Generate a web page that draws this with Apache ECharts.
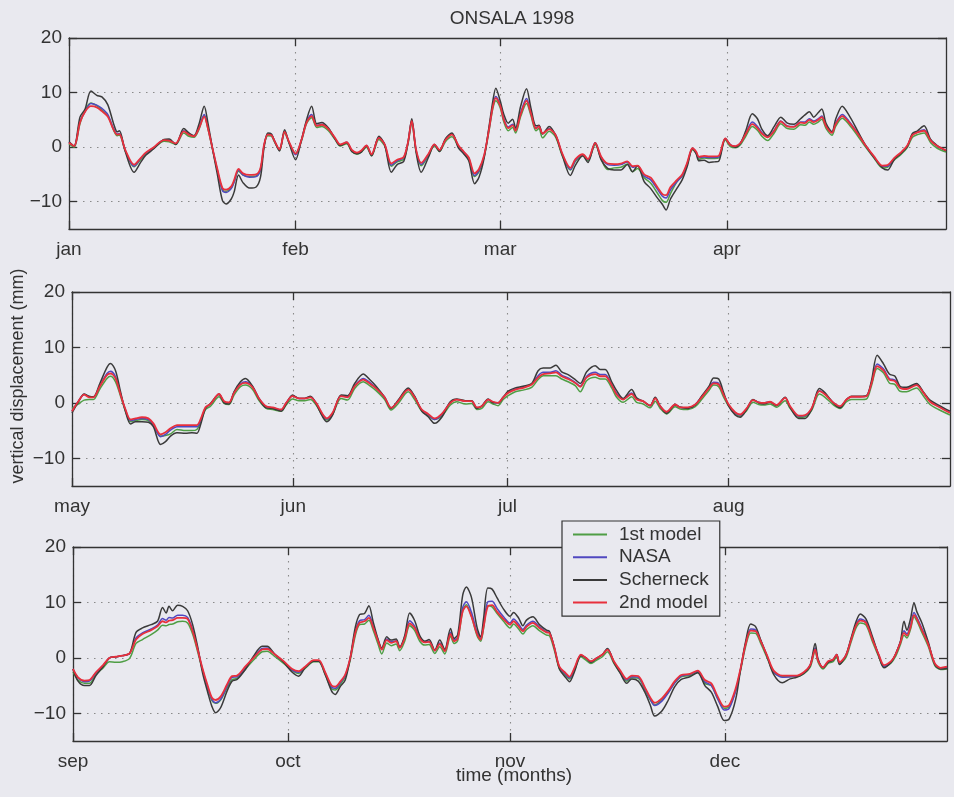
<!DOCTYPE html>
<html>
<head>
<meta charset="utf-8">
<script src="https://cdn.jsdelivr.net/npm/echarts@6/dist/echarts.min.js"></script>
<style>
  html, body { margin: 0; padding: 0; background: #e9e9ef; }
  #chart { width: 954px; height: 797px; }
</style>
</head>
<body>
<div id="chart"></div>
<script>
// Time is measured in days from 1 Jan 1998.
const monthStarts = [0, 31, 59, 90, 120, 151, 181, 212, 243, 273, 304, 334, 365];
const monthNames = ['jan', 'feb', 'mar', 'apr', 'may', 'jun', 'jul', 'aug', 'sep', 'oct', 'nov', 'dec'];
const yTickValues = [-10, 0, 10, 20];
const seriesNames = ['1st model', 'NASA', 'Scherneck', '2nd model'];

// ---- January - April ----
const daysJanApr = [
  0.0, 0.7, 1.5, 2.2, 3.0, 3.8, 4.5, 5.3, 6.1, 6.6,
  6.9, 7.7, 8.9, 9.8, 10.5, 11.6, 13.0, 13.7, 14.6, 15.7,
  16.4, 17.1, 17.8, 18.5, 19.0, 19.6, 20.3, 21.0, 21.5, 22.2,
  22.6, 23.2, 23.8, 24.7, 25.6, 26.2, 26.7, 27.2, 27.7, 28.1,
  28.8, 29.5, 30.1, 31.0, 31.8, 32.5, 33.2, 33.9, 34.6, 35.5,
  36.4, 37.1, 38.0, 38.7, 39.4, 40.0, 40.7, 41.4, 42.4, 43.2,
  44.1, 44.9, 45.8, 46.4, 46.9, 47.5, 48.2, 49.2, 50.0, 50.7,
  51.5, 52.4, 53.3, 54.0, 54.7, 55.5, 56.1, 56.8, 57.5, 58.0,
  58.4, 59.0, 59.5, 60.1, 60.7, 61.1, 61.8, 62.6, 63.2, 63.9,
  64.3, 64.8, 65.7, 66.6, 67.5, 68.6, 69.3, 70.3, 71.0, 72.0,
  72.8, 73.7, 74.6, 75.5, 76.4, 77.1, 77.8, 78.7, 79.6, 80.5,
  81.2, 81.7, 82.3, 83.2, 83.9, 84.6, 85.3, 85.8, 86.2, 86.9,
  87.6, 88.3, 88.9, 89.8, 90.5, 91.2, 91.9, 92.6, 93.5, 94.2,
  94.8, 95.6, 96.5, 97.4, 98.3, 99.2, 100.1, 100.7, 101.3, 101.9,
  102.5, 103.0, 103.6, 104.4, 104.9, 105.8, 106.7, 107.9, 109.0, 110.1,
  111.3, 112.0, 112.9, 113.8, 114.7, 115.4, 116.1, 117.0, 117.9, 118.8, 120.0
];
const firstModelJanApr = [
  0.6, 0.0, 4.3, 6.8, 8.1, 7.6, 6.8, 5.8, 3.1, 2.1,
  2.2, -0.7, -3.6, -2.3, -1.3, -0.2, 1.1, 1.0, 0.5, 2.6,
  2.0, 1.8, 3.3, 5.8, 3.4, -0.2, -4.3, -7.8, -8.1, -7.5,
  -6.3, -4.4, -5.1, -5.4, -5.3, -4.1, 0.3, 2.1, 2.0, 1.0,
  -0.6, 2.6, 0.8, -1.2, 1.1, 4.3, 5.4, 3.6, 3.8, 3.0,
  1.4, 0.2, 0.6, -0.8, -1.3, -0.9, 0.0, -1.6, 1.4, 0.2,
  -3.5, -2.7, -2.2, 0.7, 4.4, -0.8, -3.4, -1.5, 0.2, -0.8,
  1.0, 1.9, 0.0, -1.1, -2.3, -5.4, -4.5, -1.8, 3.2, 7.1,
  8.5, 7.2, 4.6, 3.0, 3.6, 2.6, 5.6, 8.0, 5.8, 3.0,
  3.4, 1.7, 2.9, 1.8, -1.6, -4.2, -2.6, -1.6, -2.5, 0.5,
  -2.1, -4.1, -3.8, -3.7, -3.1, -4.5, -3.9, -5.6, -6.6, -8.4,
  -9.8, -10.1, -8.5, -6.3, -5.3, -3.1, -0.5, -1.1, -2.2, -2.0,
  -2.1, -2.1, -2.0, 1.3, 0.1, -0.1, 0.5, 2.0, 3.8, 3.1,
  2.0, 1.2, 2.6, 4.3, 3.4, 3.3, 4.1, 4.0, 4.6, 4.2,
  4.6, 5.1, 3.4, 2.2, 3.8, 5.3, 4.2, 2.1, 0.0, -1.9,
  -3.8, -3.7, -2.4, -1.4, -0.1, 1.8, 2.3, 2.6, 0.8, -0.2, -0.9
];
const nasaJanApr = [
  0.9, 0.2, 4.7, 6.5, 8.0, 7.7, 7.1, 6.0, 3.4, 2.4,
  2.5, -0.6, -3.5, -2.1, -1.1, -0.1, 1.3, 1.3, 0.6, 3.0,
  2.4, 2.0, 3.6, 6.0, 3.7, 0.0, -4.2, -8.0, -8.3, -7.6,
  -6.4, -4.2, -5.1, -5.5, -5.4, -4.1, 0.4, 2.4, 2.3, 1.2,
  -0.5, 2.9, 0.9, -1.4, 1.3, 4.6, 6.0, 4.0, 4.2, 3.4,
  1.6, 0.4, 0.9, -0.6, -1.1, -0.7, 0.3, -1.4, 1.8, 0.5,
  -3.3, -2.5, -1.9, 1.0, 4.9, -0.6, -3.2, -1.3, 0.5, -0.6,
  1.4, 2.4, 0.2, -0.9, -2.0, -5.2, -4.3, -1.6, 3.6, 7.7,
  9.3, 7.8, 5.2, 3.7, 4.2, 3.1, 6.3, 8.9, 6.4, 3.5,
  3.9, 2.5, 3.4, 2.2, -1.3, -4.1, -2.4, -1.4, -2.3, 0.8,
  -1.8, -3.2, -3.3, -3.2, -2.7, -3.7, -3.4, -5.3, -6.0, -7.7,
  -9.0, -9.3, -7.8, -6.3, -5.2, -3.0, -0.2, -0.9, -1.9, -1.8,
  -1.9, -1.9, -1.8, 1.6, 0.4, 0.1, 0.8, 2.5, 4.6, 3.8,
  2.7, 1.9, 3.1, 4.8, 3.9, 3.8, 4.6, 4.6, 5.2, 4.8,
  5.2, 5.7, 3.9, 2.7, 4.4, 6.0, 4.8, 2.6, 0.3, -1.7,
  -3.5, -3.5, -2.1, -1.1, 0.2, 2.3, 2.8, 3.2, 1.3, 0.2, -0.6
];
const scherneckJanApr = [
  1.0, 0.2, 5.5, 7.0, 10.3, 9.5, 9.2, 7.8, 4.3, 2.8,
  3.0, -0.8, -4.6, -2.8, -1.5, -0.3, 1.4, 1.5, 0.5, 3.4,
  2.6, 2.1, 4.3, 7.5, 4.5, 0.0, -5.0, -9.8, -10.4, -9.5,
  -8.2, -5.1, -6.5, -7.5, -7.3, -5.5, 0.0, 2.6, 2.4, 1.2,
  -0.7, 3.2, 0.8, -2.3, 1.3, 5.0, 7.5, 4.3, 4.5, 3.5,
  1.5, 0.3, 0.8, -0.8, -1.2, -0.9, 0.2, -1.6, 2.0, 0.4,
  -4.6, -3.2, -2.6, 1.0, 5.2, -1.0, -4.6, -1.8, 0.5, -0.8,
  1.5, 2.6, -0.2, -1.2, -2.5, -6.7, -5.5, -2.0, 4.0, 8.5,
  10.8, 8.5, 6.0, 4.4, 5.1, 3.5, 7.5, 10.7, 7.2, 3.9,
  4.0, 2.4, 3.8, 2.1, -1.5, -5.2, -3.3, -1.6, -2.8, 0.8,
  -2.3, -3.9, -4.2, -4.2, -3.2, -4.5, -3.4, -6.3, -7.6, -9.3,
  -10.5, -11.5, -9.5, -7.5, -6.0, -3.5, -0.3, -1.2, -2.5, -2.4,
  -2.8, -2.7, -2.6, 1.6, 0.4, 0.0, 0.8, 3.0, 6.1, 5.2,
  3.3, 2.1, 3.8, 5.5, 4.4, 4.2, 5.2, 5.9, 6.5, 5.5,
  6.3, 7.0, 4.3, 2.8, 5.1, 7.5, 5.9, 3.0, 0.3, -1.8,
  -3.8, -4.2, -2.3, -1.2, 0.1, 2.5, 3.0, 3.9, 1.4, 0.3, -0.7
];
const secondModelJanApr = [
  0.8, 0.2, 4.5, 6.5, 7.5, 7.3, 6.6, 5.6, 3.2, 2.3,
  2.4, -0.5, -3.2, -2.0, -1.0, 0.0, 1.3, 1.2, 0.7, 2.9,
  2.3, 2.0, 3.5, 5.6, 3.5, 0.0, -4.0, -7.5, -7.8, -7.2,
  -6.0, -4.0, -4.8, -5.1, -5.0, -3.8, 0.5, 2.3, 2.2, 1.2,
  -0.4, 2.8, 1.0, -1.2, 1.3, 4.5, 5.7, 3.9, 4.1, 3.3,
  1.7, 0.5, 0.9, -0.5, -1.0, -0.6, 0.3, -1.3, 1.7, 0.5,
  -3.0, -2.3, -1.8, 1.0, 4.8, -0.5, -2.9, -1.2, 0.5, -0.5,
  1.3, 2.3, 0.3, -0.8, -1.9, -4.8, -4.0, -1.5, 3.5, 7.5,
  9.0, 7.6, 5.0, 3.5, 4.0, 3.0, 6.0, 8.5, 6.2, 3.4,
  3.8, 2.5, 3.3, 2.2, -1.2, -3.8, -2.2, -1.3, -2.2, 0.8,
  -1.7, -3.0, -3.1, -3.0, -2.6, -3.5, -3.4, -5.0, -5.6, -7.3,
  -8.6, -8.8, -7.3, -6.0, -5.0, -2.8, -0.2, -0.8, -1.8, -1.6,
  -1.7, -1.7, -1.6, 1.6, 0.4, 0.2, 0.8, 2.4, 4.2, 3.5,
  2.5, 1.8, 3.0, 4.7, 3.8, 3.7, 4.5, 4.4, 5.0, 4.6,
  5.0, 5.5, 3.8, 2.6, 4.2, 5.7, 4.6, 2.5, 0.3, -1.6,
  -3.4, -3.3, -2.0, -1.0, 0.3, 2.2, 2.7, 3.0, 1.2, 0.2, -0.6
];

// ---- May - August ----
const daysMayAug = [
  120.0, 120.9, 121.7, 122.4, 123.0, 123.9, 124.9, 125.4, 126.1, 126.8,
  127.5, 128.2, 128.9, 129.8, 130.7, 131.4, 132.4, 133.1, 133.8, 134.7,
  135.9, 136.8, 137.5, 138.0, 138.7, 139.4, 140.6, 141.3, 142.0, 142.7,
  143.6, 144.3, 145.3, 146.2, 147.2, 148.1, 149.3, 150.0, 150.9, 151.8,
  152.6, 153.4, 154.2, 155.1, 155.7, 156.5, 157.7, 158.6, 159.6, 160.8,
  161.7, 162.6, 163.8, 164.7, 165.7, 167.1, 168.0, 169.0, 169.9, 170.8,
  171.8, 173.0, 173.9, 175.1, 176.0, 176.7, 177.4, 178.3, 179.0, 179.7,
  180.4, 181.1, 182.1, 183.2, 184.4, 185.3, 186.0, 187.0, 187.8, 188.6,
  189.5, 190.5, 191.2, 192.1, 193.3, 194.0, 194.7, 195.6, 196.3, 197.2,
  198.4, 199.1, 200.0, 201.0, 201.7, 202.4, 203.3, 204.5, 205.2, 206.3,
  207.3, 208.2, 209.2, 209.9, 210.6, 211.3, 212.0, 212.9, 213.6, 214.5,
  215.4, 216.2, 216.9, 217.8, 218.7, 219.9, 220.6, 221.8, 222.7, 223.6,
  224.7, 225.5, 226.7, 227.6, 228.5, 229.2, 230.4, 231.3, 232.0, 232.8,
  233.7, 234.5, 235.3, 236.0, 236.9, 238.3, 239.3, 240.2, 241.4, 243.0
];
const firstModelMayAug = [
  -1.0, -0.2, 0.5, 0.6, 0.6, 2.5, 4.4, 4.8, 3.8, 1.2,
  -1.5, -3.4, -3.2, -3.0, -3.2, -4.1, -6.0, -5.9, -5.6, -4.8,
  -5.0, -5.0, -4.8, -3.5, -1.2, -0.6, 1.1, -0.1, -0.3, 1.4,
  2.9, 3.2, 2.4, 0.4, -1.0, -1.2, -1.5, -0.4, 0.7, 0.4,
  0.4, 0.6, -0.4, -2.3, -3.1, -2.1, 0.8, 0.5, 2.6, 3.8,
  3.1, 2.2, 0.6, -1.3, -0.1, 2.0, 0.6, -1.5, -2.3, -3.0,
  -2.4, -0.4, 0.2, -0.2, -0.1, -1.2, -1.0, 0.2, -0.2, -0.5,
  0.6, 1.3, 2.0, 2.3, 2.8, 4.2, 4.9, 4.9, 4.9, 4.3,
  3.8, 3.1, 2.0, 4.0, 4.6, 4.3, 4.3, 2.7, 1.0, 0.1,
  1.1, 0.1, -0.2, -0.9, 0.3, -1.0, -2.0, -0.7, -1.1, -1.2,
  -0.7, 0.6, 2.2, 3.2, 2.9, 1.0, -0.6, -2.0, -2.4, -1.4,
  0.1, -0.3, -0.4, -0.2, -0.8, 0.4, -1.0, -2.6, -2.5, -1.4,
  1.6, 1.0, -0.4, -1.0, 0.2, 0.6, 0.6, 0.7, 3.1, 6.2,
  5.4, 3.6, 3.3, 2.1, 2.0, 2.7, 1.2, -0.3, -1.2, -2.2
];
const nasaMayAug = [
  -1.5, 0.3, 1.5, 1.1, 1.0, 3.1, 5.3, 5.7, 4.7, 1.6,
  -1.3, -3.2, -3.0, -2.8, -3.0, -3.9, -6.1, -5.7, -4.9, -4.3,
  -4.3, -4.3, -4.3, -3.2, -0.9, -0.2, 1.6, 0.2, 0.0, 1.9,
  3.4, 3.8, 2.9, 0.8, -0.7, -0.9, -1.3, 0.0, 1.3, 0.8,
  0.8, 1.1, 0.0, -2.1, -2.9, -1.9, 1.3, 1.1, 3.1, 4.4,
  3.7, 2.7, 1.0, -0.9, 0.4, 2.5, 1.1, -1.3, -2.1, -3.0,
  -2.1, 0.1, 0.6, 0.3, 0.3, -0.9, -0.6, 0.6, 0.1, 0.0,
  1.0, 1.9, 2.5, 2.8, 3.4, 4.9, 5.5, 5.5, 5.8, 5.0,
  4.5, 3.7, 3.0, 4.8, 5.5, 5.1, 5.1, 3.3, 1.7, 0.7,
  1.8, 0.7, 0.3, -0.5, 0.9, -0.6, -1.7, -0.3, -0.8, -0.9,
  -0.3, 1.1, 2.7, 3.7, 3.5, 1.5, -0.4, -1.8, -2.2, -1.1,
  0.5, 0.1, 0.0, 0.2, -0.4, 0.9, -0.7, -2.4, -2.3, -1.1,
  2.2, 1.6, 0.0, -0.7, 0.6, 1.1, 1.1, 1.2, 3.6, 7.0,
  6.1, 4.4, 4.1, 2.8, 2.6, 3.3, 1.8, 0.3, -0.6, -1.7
];
const scherneckMayAug = [
  -1.8, 0.2, 1.6, 1.2, 1.1, 3.5, 6.4, 7.1, 5.8, 2.0,
  -1.6, -3.8, -3.4, -3.4, -3.5, -4.3, -7.5, -7.0, -6.0, -5.4,
  -5.5, -5.4, -5.5, -4.0, -1.0, -0.1, 1.5, 0.0, -0.2, 2.0,
  3.8, 4.4, 3.0, 0.7, -0.9, -1.0, -1.5, -0.2, 1.4, 0.8,
  0.8, 1.2, -0.2, -2.5, -3.4, -2.2, 1.4, 1.3, 3.5, 5.2,
  4.2, 3.0, 1.0, -1.0, 0.5, 2.7, 1.2, -1.5, -2.5, -3.7,
  -2.6, 0.2, 0.7, 0.4, 0.4, -1.0, -0.6, 0.7, 0.0, 0.0,
  1.0, 2.1, 2.7, 3.0, 3.5, 5.8, 6.3, 6.3, 6.8, 5.6,
  5.1, 4.2, 3.5, 5.6, 6.7, 6.0, 6.0, 3.8, 2.2, 0.8,
  2.4, 0.9, 0.3, -0.5, 1.0, -0.6, -1.9, -0.4, -0.8, -1.0,
  -0.4, 1.2, 2.9, 4.5, 4.3, 1.8, -0.6, -2.2, -2.6, -1.2,
  0.6, 0.0, -0.2, 0.1, -0.5, 1.0, -0.8, -2.8, -2.8, -1.2,
  2.6, 1.8, -0.1, -0.9, 0.6, 1.2, 1.2, 1.3, 4.0, 8.6,
  7.0, 5.2, 4.8, 3.0, 2.8, 3.5, 1.9, 0.5, -0.4, -1.5
];
const secondModelMayAug = [
  -1.5, 0.3, 1.5, 1.0, 1.0, 3.0, 5.0, 5.3, 4.4, 1.5,
  -1.2, -3.0, -2.8, -2.6, -2.8, -3.7, -5.7, -5.3, -4.6, -4.0,
  -4.0, -4.0, -4.0, -3.0, -0.8, -0.2, 1.6, 0.3, 0.1, 1.8,
  3.3, 3.6, 2.8, 0.8, -0.6, -0.8, -1.2, 0.0, 1.2, 0.8,
  0.8, 1.0, 0.0, -2.0, -2.8, -1.8, 1.2, 1.0, 3.0, 4.2,
  3.5, 2.6, 1.0, -0.9, 0.3, 2.4, 1.0, -1.2, -2.0, -2.8,
  -2.0, 0.0, 0.6, 0.3, 0.3, -0.8, -0.6, 0.6, 0.2, 0.0,
  1.0, 1.8, 2.4, 2.7, 3.3, 4.6, 5.2, 5.3, 5.5, 4.8,
  4.3, 3.6, 2.9, 4.6, 5.2, 4.8, 4.8, 3.2, 1.5, 0.6,
  1.6, 0.6, 0.3, -0.5, 0.8, -0.6, -1.6, -0.3, -0.8, -0.8,
  -0.3, 1.0, 2.6, 3.5, 3.3, 1.4, -0.3, -1.7, -2.1, -1.0,
  0.5, 0.1, 0.0, 0.2, -0.4, 0.9, -0.6, -2.3, -2.2, -1.0,
  2.1, 1.5, 0.0, -0.6, 0.6, 1.1, 1.1, 1.2, 3.5, 6.6,
  5.8, 4.2, 3.9, 2.7, 2.5, 3.2, 1.8, 0.2, -0.7, -1.8
];

// ---- September - December ----
const daysSepDec = [
  243.0, 243.7, 244.6, 245.3, 246.2, 247.2, 248.1, 249.0, 249.9, 250.9,
  251.8, 252.7, 253.9, 254.8, 255.5, 256.0, 256.4, 256.9, 257.6, 258.3,
  259.0, 259.7, 260.4, 261.1, 261.8, 262.4, 262.9, 263.6, 264.5, 265.2,
  265.9, 267.1, 268.2, 269.4, 270.1, 271.2, 272.4, 273.6, 274.5, 275.4,
  276.6, 277.3, 278.2, 279.1, 279.6, 280.3, 281.0, 281.7, 282.4, 283.0,
  283.7, 284.3, 284.9, 285.6, 286.1, 286.8, 287.4, 288.1, 288.6, 289.3,
  290.0, 290.7, 291.4, 292.1, 292.7, 293.5, 294.2, 294.9, 295.7, 296.2,
  296.7, 297.4, 297.9, 298.6, 299.4, 299.9, 300.3, 300.9, 301.5, 302.2,
  303.1, 304.0, 304.5, 305.2, 305.8, 306.3, 307.2, 308.1, 309.1, 309.5,
  310.2, 310.9, 311.8, 312.3, 313.0, 313.9, 314.6, 315.3, 316.0, 316.9,
  317.6, 318.5, 319.4, 320.3, 321.0, 321.9, 322.9, 323.6, 324.2, 325.2,
  326.1, 327.0, 327.9, 329.1, 330.2, 331.2, 332.1, 333.0, 333.9, 334.6,
  335.5, 336.2, 336.9, 337.6, 338.3, 339.0, 339.9, 340.8, 342.0, 343.1,
  344.0, 345.0, 345.9, 346.6, 347.0, 347.7, 348.4, 349.1, 349.6, 350.0,
  350.9, 351.6, 352.3, 352.9, 353.7, 354.6, 355.5, 356.2, 357.2, 357.8,
  358.5, 359.0, 359.4, 359.9, 360.4, 360.8, 361.5, 362.4, 363.3, 364.1, 365.0
];
const firstModelSepDec = [
  -2.5, -4.0, -4.6, -4.6, -3.0, -1.8, -0.7, -0.8, -0.7, -0.1,
  2.6, 3.3, 4.2, 5.0, 5.9, 5.8, 6.0, 6.1, 6.5, 6.6,
  6.3, 4.3, 1.1, -2.4, -5.5, -7.7, -8.2, -7.6, -5.4, -3.9,
  -3.7, -2.0, -0.4, 1.1, 1.2, 0.2, -1.0, -2.3, -2.8, -1.9,
  -0.7, -0.7, -3.0, -5.6, -5.8, -4.8, -3.4, -0.4, 4.0, 6.0,
  6.1, 6.8, 5.0, 2.4, 0.7, 2.7, 2.2, 2.5, 1.3, 3.0,
  5.8, 4.9, 3.0, 2.3, 2.4, 0.8, 2.0, 0.7, 3.9, 2.6,
  3.1, 8.5, 9.6, 7.6, 4.0, 3.0, 5.2, 9.4, 9.2, 8.0,
  6.6, 5.4, 6.1, 5.2, 4.3, 5.1, 5.8, 4.9, 4.1, 4.0,
  1.3, -2.0, -3.2, -3.8, -2.2, 0.2, -0.4, -1.0, -0.5, 0.2,
  1.1, -1.0, -2.7, -4.2, -3.6, -3.7, -5.9, -7.6, -8.5, -7.5,
  -6.2, -4.5, -3.4, -3.2, -2.6, -4.6, -5.0, -7.4, -9.1, -8.8,
  -5.9, -2.2, 2.1, 4.5, 4.4, 2.6, 0.0, -2.6, -3.4, -3.4,
  -3.4, -2.9, -1.7, 1.2, -0.8, -2.0, -1.0, -0.7, 0.2, -1.1,
  0.1, 2.8, 5.4, 6.3, 5.9, 2.9, 0.1, -1.6, -0.9, 0.2,
  2.4, 4.1, 3.6, 5.1, 7.4, 6.6, 4.6, 2.0, -1.4, -2.1, -2.0
];
const nasaSepDec = [
  -2.0, -3.6, -4.3, -4.2, -2.7, -1.4, 0.0, 0.2, 0.4, 0.8,
  3.6, 4.5, 5.2, 5.9, 7.1, 6.8, 7.3, 7.2, 7.7, 7.7,
  7.3, 5.1, 1.6, -2.2, -5.3, -7.5, -8.1, -7.5, -5.1, -3.5,
  -3.4, -1.7, 0.1, 1.7, 1.8, 0.6, -0.7, -2.2, -2.6, -1.7,
  -0.5, -0.5, -2.7, -5.3, -5.5, -4.5, -3.2, 0.0, 4.7, 6.7,
  6.9, 7.7, 5.7, 3.1, 1.6, 3.4, 2.9, 3.1, 1.9, 3.7,
  6.7, 5.7, 3.6, 2.9, 3.0, 1.3, 2.7, 1.3, 4.6, 3.2,
  3.7, 9.1, 10.1, 8.3, 4.6, 3.5, 5.9, 10.1, 10.2, 8.9,
  7.4, 6.3, 7.0, 6.1, 5.1, 5.9, 6.6, 5.6, 4.7, 4.6,
  1.8, -1.7, -3.0, -3.6, -2.0, 0.5, 0.0, -0.7, -0.1, 0.6,
  1.6, -0.7, -2.5, -4.0, -3.4, -3.5, -5.7, -7.5, -8.6, -7.8,
  -6.3, -4.5, -3.3, -3.0, -2.4, -4.3, -5.0, -7.4, -9.4, -9.1,
  -6.0, -1.9, 2.6, 5.2, 5.0, 3.1, 0.3, -2.5, -3.5, -3.4,
  -3.3, -2.7, -1.3, 1.8, -0.4, -1.7, -0.7, -0.3, 0.6, -0.9,
  0.5, 3.3, 6.0, 7.0, 6.5, 3.5, 0.4, -1.5, -0.7, 0.6,
  2.9, 4.9, 4.3, 5.9, 8.2, 7.3, 5.3, 2.5, -1.1, -1.9, -1.7
];
const scherneckSepDec = [
  -2.0, -4.2, -5.0, -5.0, -3.2, -1.6, 0.0, 0.2, 0.4, 0.8,
  4.6, 5.4, 6.0, 6.6, 9.1, 8.1, 9.3, 8.5, 9.5, 9.3,
  8.5, 6.0, 2.0, -2.8, -6.2, -8.8, -9.9, -9.0, -6.0, -4.2,
  -3.9, -2.0, 0.3, 2.1, 2.1, 0.6, -0.8, -2.6, -3.3, -1.8,
  -0.6, -0.6, -3.0, -6.0, -6.6, -5.2, -4.0, 0.0, 5.5, 7.8,
  8.0, 9.4, 6.5, 3.3, 1.8, 3.8, 3.2, 3.4, 2.0, 4.0,
  8.1, 6.7, 4.0, 3.0, 3.3, 1.4, 3.2, 1.5, 5.3, 3.5,
  4.2, 11.3, 12.8, 11.0, 5.5, 3.8, 7.0, 12.6, 12.4, 10.8,
  8.8, 7.5, 8.2, 7.2, 5.8, 6.8, 7.4, 6.0, 5.0, 4.8,
  1.8, -2.0, -3.6, -4.3, -2.5, 0.4, 0.0, -0.8, -0.2, 0.6,
  1.7, -0.8, -2.8, -4.6, -3.8, -4.2, -6.4, -8.6, -10.5, -9.6,
  -7.6, -5.2, -3.9, -3.4, -2.7, -5.0, -6.2, -8.8, -11.3, -11.0,
  -7.5, -2.0, 3.0, 6.1, 5.6, 3.2, 0.2, -3.0, -4.5, -3.8,
  -3.5, -2.8, -1.4, 2.6, -0.2, -1.8, -0.8, -0.4, 0.6, -1.2,
  0.5, 3.5, 6.5, 7.9, 7.0, 3.8, 0.3, -1.8, -0.8, 0.6,
  3.0, 6.6, 5.0, 7.0, 9.9, 8.3, 6.3, 2.8, -1.2, -2.0, -1.9
];
const secondModelSepDec = [
  -2.0, -3.5, -4.1, -4.0, -2.6, -1.3, 0.0, 0.2, 0.4, 0.8,
  3.3, 4.3, 5.0, 5.7, 6.6, 6.4, 6.7, 6.8, 7.2, 7.2,
  7.0, 4.8, 1.5, -2.0, -5.0, -7.2, -7.6, -7.0, -4.8, -3.3,
  -3.2, -1.5, 0.0, 1.5, 1.6, 0.6, -0.6, -2.0, -2.4, -1.6,
  -0.4, -0.4, -2.6, -5.0, -5.2, -4.3, -3.0, 0.0, 4.5, 6.3,
  6.6, 7.2, 5.5, 3.0, 1.5, 3.2, 2.7, 3.0, 1.8, 3.5,
  6.2, 5.4, 3.5, 2.8, 2.9, 1.3, 2.5, 1.2, 4.3, 3.0,
  3.5, 8.4, 9.3, 7.5, 4.3, 3.3, 5.5, 9.3, 9.5, 8.3,
  7.0, 6.0, 6.6, 5.7, 4.8, 5.6, 6.3, 5.4, 4.6, 4.5,
  1.8, -1.6, -2.8, -3.4, -1.8, 0.6, 0.0, -0.6, -0.1, 0.6,
  1.5, -0.6, -2.3, -3.8, -3.2, -3.3, -5.5, -7.2, -8.1, -7.3,
  -5.9, -4.2, -3.1, -2.9, -2.3, -4.0, -4.6, -7.0, -8.8, -8.5,
  -5.5, -1.8, 2.5, 4.9, 4.8, 3.0, 0.4, -2.3, -3.2, -3.2,
  -3.2, -2.6, -1.3, 1.5, -0.5, -1.7, -0.6, -0.3, 0.6, -0.8,
  0.5, 3.2, 5.8, 6.7, 6.3, 3.3, 0.5, -1.3, -0.6, 0.6,
  2.8, 4.5, 4.0, 5.5, 7.7, 7.0, 5.0, 2.4, -1.0, -1.8, -1.6
];

const FONT = '"Liberation Sans", Arial, Helvetica, sans-serif';
const INK = '#333333';
const BG = '#e9e9ef';
const lineColors = ['#4f9e45', '#5048c0', '#3a3a3a', '#e8303c'];

const panels = [
  { start: 0,   end: 120, days: daysJanApr,
    values: [firstModelJanApr, nasaJanApr, scherneckJanApr, secondModelJanApr],
    box: { left: 69, top: 38, width: 877, height: 191 } },
  { start: 120, end: 243, days: daysMayAug,
    values: [firstModelMayAug, nasaMayAug, scherneckMayAug, secondModelMayAug],
    box: { left: 72, top: 292, width: 878, height: 194 } },
  { start: 243, end: 365, days: daysSepDec,
    values: [firstModelSepDec, nasaSepDec, scherneckSepDec, secondModelSepDec],
    box: { left: 73, top: 547, width: 874, height: 194 } }
];

const axisLineStyle = { color: INK, width: 1.3 };
const gridDots = { color: '#8a8a8a', width: 1.1, type: [1.5, 5.5] };
const minusFmt = v => (v < 0 ? '\u2212' + Math.abs(v) : String(v));

const grids = [], xAxes = [], yAxes = [], series = [];

panels.forEach((p, i) => {
  grids.push(Object.assign({ containLabel: false }, p.box));
  const ticks = monthStarts.filter(m => m >= p.start && m < p.end);

  // bottom axis with month labels
  xAxes.push({
    gridIndex: i, type: 'value', position: 'bottom', min: p.start, max: p.end,
    axisLine: { show: true, onZero: false, lineStyle: axisLineStyle },
    axisTick: { show: true, inside: true, length: 8, customValues: ticks, lineStyle: axisLineStyle },
    axisLabel: {
      show: true, customValues: ticks, margin: 11, fontSize: 19, color: INK, fontFamily: FONT,
      formatter: v => monthNames[monthStarts.indexOf(Math.round(v))] || ''
    },
    splitLine: { show: true, lineStyle: gridDots }
  });
  // top frame edge with inward ticks
  xAxes.push({
    gridIndex: i, type: 'value', position: 'top', min: p.start, max: p.end,
    axisLine: { show: true, onZero: false, lineStyle: axisLineStyle },
    axisTick: { show: true, inside: true, length: 8, customValues: ticks, lineStyle: axisLineStyle },
    axisLabel: { show: false },
    splitLine: { show: false }
  });
  // left axis with displacement labels
  yAxes.push({
    gridIndex: i, type: 'value', position: 'left', min: -15, max: 20,
    axisLine: { show: true, onZero: false, lineStyle: axisLineStyle },
    axisTick: { show: true, inside: true, length: 8, customValues: yTickValues, lineStyle: axisLineStyle },
    axisLabel: {
      show: true, customValues: yTickValues, margin: 7, fontSize: 19, color: INK, fontFamily: FONT,
      formatter: minusFmt
    },
    splitLine: { show: true, lineStyle: gridDots }
  });
  // right frame edge with inward ticks
  yAxes.push({
    gridIndex: i, type: 'value', position: 'right', min: -15, max: 20,
    axisLine: { show: true, onZero: false, lineStyle: axisLineStyle },
    axisTick: { show: true, inside: true, length: 8, customValues: yTickValues, lineStyle: axisLineStyle },
    axisLabel: { show: false },
    splitLine: { show: false }
  });

  p.values.forEach((vals, s) => {
    series.push({
      name: seriesNames[s],
      type: 'line',
      xAxisIndex: 2 * i,
      yAxisIndex: 2 * i,
      data: p.days.map((d, k) => [d, vals[k]]),
      symbol: 'none',
      smooth: 0.3,
      clip: true,
      z: 2 + s,
      lineStyle: { color: lineColors[s], width: s === 3 ? 1.8 : 1.5 },
      itemStyle: { color: lineColors[s] },
      emphasis: { disabled: true }
    });
  });
});

const chart = echarts.init(document.getElementById('chart'), null, { renderer: 'canvas' });
chart.setOption({
  animation: false,
  backgroundColor: BG,
  textStyle: { fontFamily: FONT },
  title: {
    text: 'ONSALA 1998', left: 507, top: 4, textAlign: 'center',
    textStyle: { fontSize: 19, fontWeight: 'normal', color: INK, fontFamily: FONT }
  },
  legend: {
    data: seriesNames,
    orient: 'vertical',
    left: 562, top: 521,
    padding: [4, 11, 4, 11],
    itemGap: 3.7,
    itemWidth: 34, itemHeight: 2,
    icon: 'rect',
    backgroundColor: BG,
    borderColor: INK, borderWidth: 1.2,
    selectedMode: false,
    textStyle: { fontSize: 19, color: INK, fontFamily: FONT, lineHeight: 19, padding: [0, 0, 0, 7] }
  },
  grid: grids,
  xAxis: xAxes,
  yAxis: yAxes,
  series: series,
  graphic: [
    {
      type: 'text', x: 18.5, y: 376, rotation: Math.PI / 2,
      style: {
        text: 'vertical displacement (mm)', fontSize: 18, fill: INK, fontFamily: FONT,
        align: 'center', verticalAlign: 'middle'
      }
    },
    {
      type: 'text', x: 514, y: 776,
      style: {
        text: 'time (months)', fontSize: 19, fill: INK, fontFamily: FONT,
        align: 'center', verticalAlign: 'middle'
      }
    }
  ]
});
</script>
</body>
</html>
